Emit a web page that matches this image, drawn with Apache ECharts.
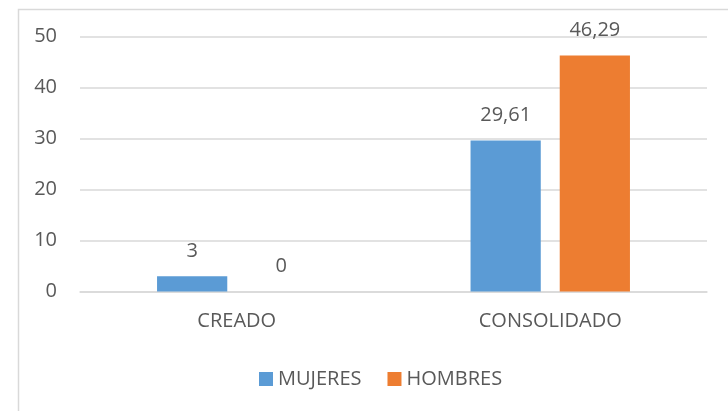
<!DOCTYPE html>
<html>
<head>
<meta charset="utf-8">
<script src="https://cdn.jsdelivr.net/npm/echarts@6/dist/echarts.min.js"></script>
<style>
  html, body { margin: 0; padding: 0; background: #fff; }
  #chart { width: 728px; height: 411px; }
</style>
</head>
<body>
<div id="chart"></div>
<script>
// Categories, series and axis ticks
const categories = ['CREADO', 'CONSOLIDADO'];
const mujeres = [3, 29.61];
const hombres = [0, 46.29];
const yTicks = { min: 0, max: 50, interval: 10 };

const FONT = "'Open Sans', sans-serif";
const SIZE = 20;
const TEXT = '#595959';
const LINE = '#D9D9D9';

// Decimal comma formatting, as in the labels
const fmt = v => String(v).replace('.', ',');

const chart = echarts.init(document.getElementById('chart'), null, { renderer: 'canvas' });

const labelStyle = {
  show: true,
  position: 'top',
  distance: 15,
  fontFamily: FONT,
  fontSize: SIZE,
  color: TEXT,
  formatter: p => fmt(p.value)
};

chart.setOption({
  animation: false,
  backgroundColor: '#fff',
  graphic: [{
    type: 'rect',
    left: 16,
    top: 7,
    shape: { width: 800, height: 500 },
    style: { fill: 'none', stroke: LINE, lineWidth: 1.5 },
    silent: true
  }],
  grid: { left: 80, right: 21, top: 36.5, bottom: 119.5 },
  legend: {
    data: ['MUJERES', 'HOMBRES'],
    left: 254,
    top: 364,
    itemWidth: 14,
    itemHeight: 14,
    itemGap: 26,
    icon: 'rect',
    textStyle: { fontFamily: FONT, fontSize: SIZE, color: TEXT }
  },
  xAxis: {
    type: 'category',
    data: categories,
    axisLine: { lineStyle: { color: LINE, width: 1.5 } },
    axisTick: { show: false },
    axisLabel: { fontFamily: FONT, fontSize: SIZE, color: TEXT, margin: 20 }
  },
  yAxis: {
    type: 'value',
    min: yTicks.min,
    max: yTicks.max,
    interval: yTicks.interval,
    axisLine: { show: false },
    axisTick: { show: false },
    splitLine: { lineStyle: { color: LINE, width: 1.5 } },
    axisLabel: { fontFamily: FONT, fontSize: SIZE, color: TEXT, margin: 23 }
  },
  series: [
    {
      name: 'MUJERES',
      type: 'bar',
      data: mujeres,
      barWidth: '22.4%',
      barGap: '27%',
      itemStyle: { color: '#5B9BD5' },
      label: labelStyle
    },
    {
      name: 'HOMBRES',
      type: 'bar',
      data: hombres,
      barWidth: '22.4%',
      barGap: '27%',
      itemStyle: { color: '#ED7D31' },
      label: labelStyle
    }
  ]
});
</script>
</body>
</html>
